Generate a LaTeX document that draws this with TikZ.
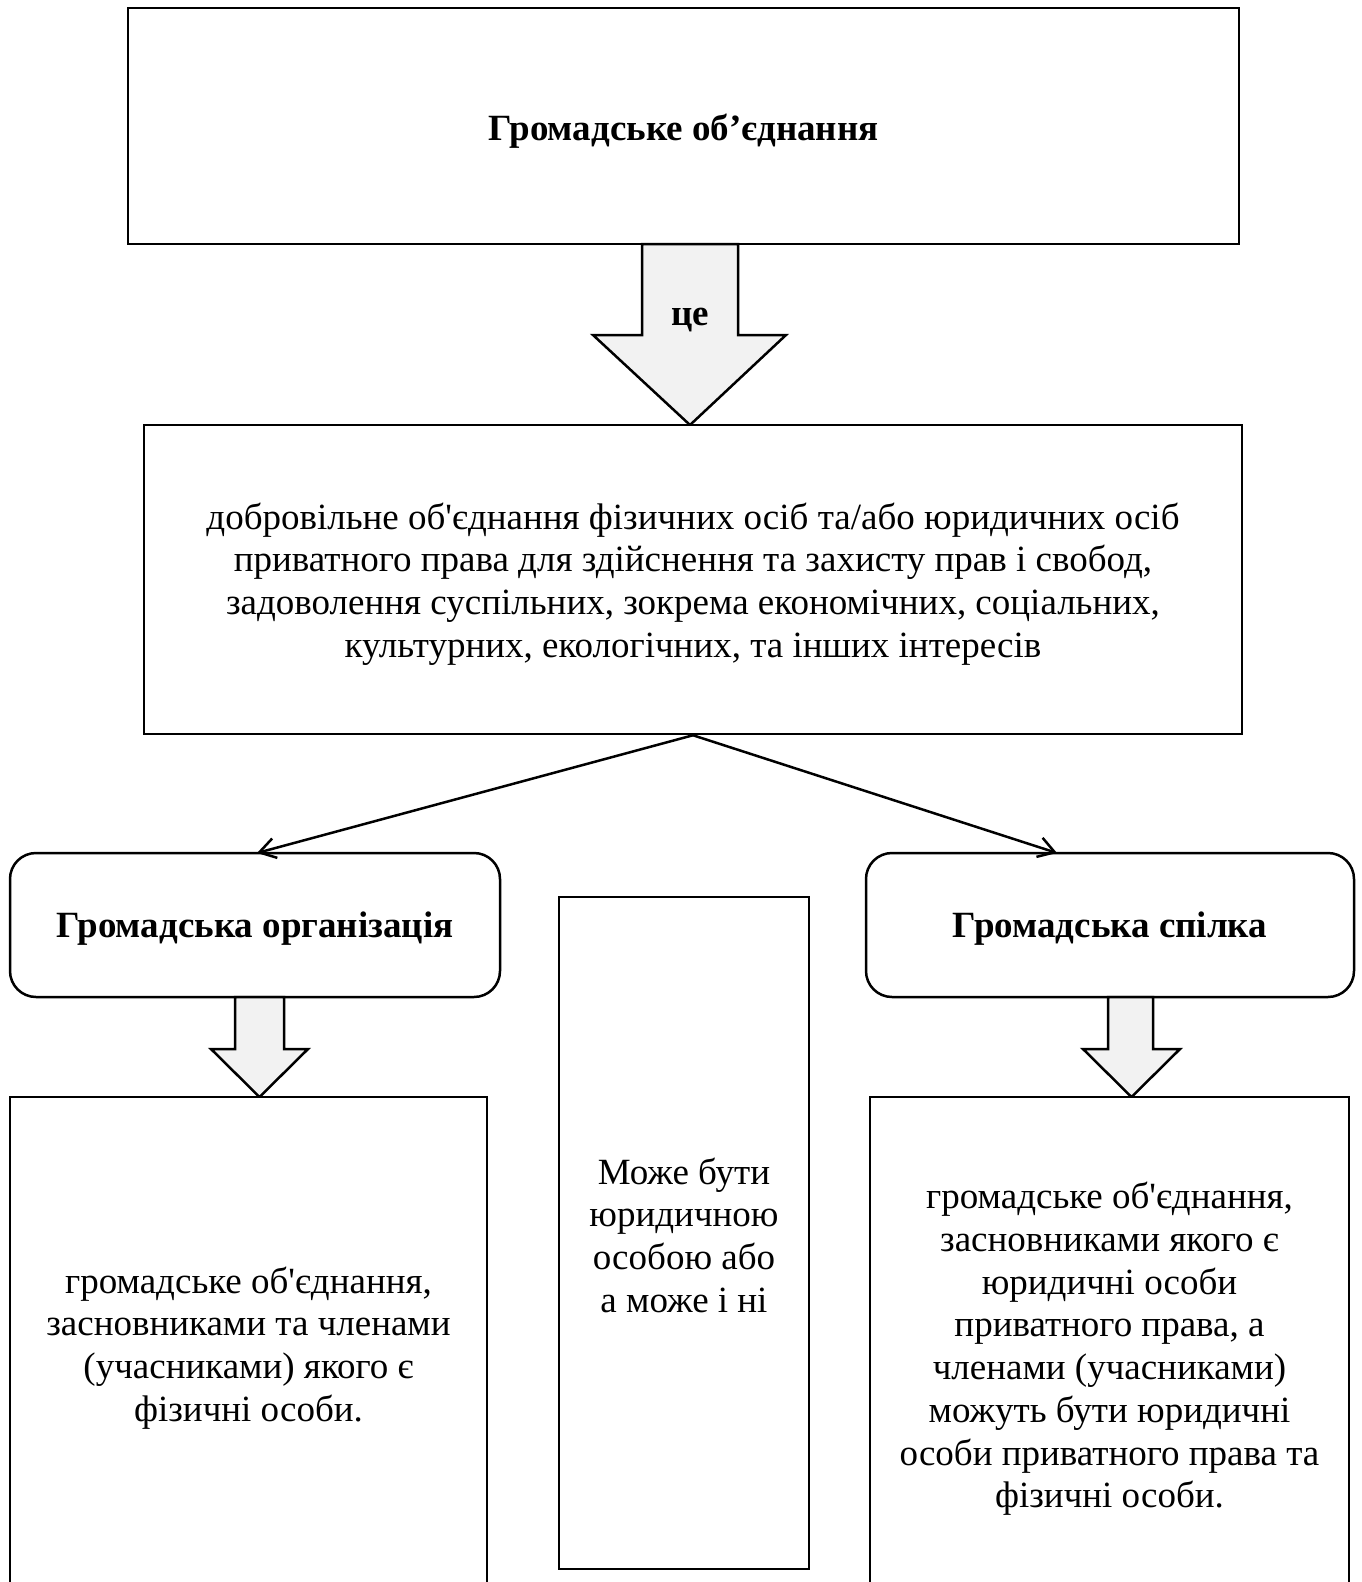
\documentclass[tikz,border=0pt]{standalone}
\usepackage{fontspec}
\setmainfont{Liberation Serif}[Ligatures=TeXOff]
\usetikzlibrary{arrows.meta}
\definecolor{arrowfill}{HTML}{F2F2F2}
\tikzset{
  box/.style={draw=black, line width=2.5pt, inner sep=0pt, fill=white},
  rbox/.style={box, rounded corners=26pt},
  txt/.style={align=center, inner sep=0pt, font=\fontsize{37}{42.7}\selectfont},
  btxt/.style={txt, font=\fontsize{37}{42.7}\selectfont\bfseries},
  blockarrow/.style={draw=black, line width=2.5pt, fill=arrowfill, line join=miter},
  conn/.style={draw=black, line width=2.5pt, -{Straight Barb[length=16pt,width=20pt]}}
}
\begin{document}
\begin{tikzpicture}[x=1pt,y=-1pt]
\useasboundingbox (0,0) rectangle (1362,1582);
\clip (0,0) rectangle (1362,1582);
\fill[white] (0,0) rectangle (1362,1582);

% top box
\node[box, minimum width=1111pt, minimum height=236pt] (top) at (683.5,126) {};
\node[btxt] (toptxt) at (683.5,131) {Громадське об’єднання};

% big block arrow
\filldraw[blockarrow] (642,244) -- (738,244) -- (738,335) -- (786,335) -- (690,425) -- (593,335) -- (642,335) -- cycle;
\node[btxt] (ce) at (690,320) {це};

% definition box
\node[box, minimum width=1098pt, minimum height=309pt] (def) at (693,579.5) {};
\node[txt] (deftxt) at (693,584) {добровільне об'єднання фізичних осіб та/або юридичних осіб\\приватного права для здійснення та захисту прав і свобод,\\задоволення суспільних, зокрема економічних, соціальних,\\культурних, екологічних, та інших інтересів};

% rounded boxes
\node[rbox, minimum width=490pt, minimum height=144pt] (org) at (255,925) {};
\node[btxt] (orgtxt) at (255,929) {Громадська організація};
\node[rbox, minimum width=488pt, minimum height=144pt] (sp) at (1110,925) {};
\node[btxt] (sptxt) at (1110,929) {Громадська спілка};

\coordinate (orgtip) at (257,853);
\coordinate (sptip) at (1057,853);
\draw[conn] (def.south) -- (orgtip);
\draw[conn] (def.south) -- (sptip);

% small block arrows
\filldraw[blockarrow] (235,997) -- (284,997) -- (284,1049) -- (308,1049) -- (259.5,1097) -- (211,1049) -- (235,1049) -- cycle;
\filldraw[blockarrow] (1108,997) -- (1153,997) -- (1153,1049) -- (1180,1049) -- (1131.5,1097) -- (1083,1049) -- (1108,1049) -- cycle;

% middle box
\node[box, minimum width=250pt, minimum height=672pt] (mid) at (684,1233) {};
\node[txt] (midtxt) at (684,1235) {Може бути\\юридичною\\особою або\\а може і ні};

% bottom boxes (extend past the lower edge)
\node[box, minimum width=477pt, minimum height=603pt] (orgdef) at (248.5,1398.5) {};
\node[txt] (orgdeftxt) at (248.5,1348) {громадське об'єднання,\\засновниками та членами\\(учасниками) якого є\\фізичні особи.};
\node[box, minimum width=479pt, minimum height=603pt] (spdef) at (1109.5,1398.5) {};
\node[txt] (spdeftxt) at (1109.5,1349) {громадське об'єднання,\\засновниками якого є\\юридичні особи\\приватного права, а\\членами (учасниками)\\можуть бути юридичні\\особи приватного права та\\фізичні особи.};
\end{tikzpicture}
\end{document}
